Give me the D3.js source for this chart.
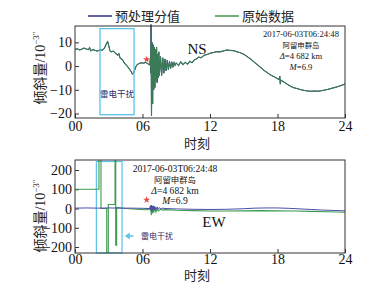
<!DOCTYPE html>
<html><head><meta charset="utf-8">
<script src="https://cdn.jsdelivr.net/npm/d3@7"></script>
<style>body{margin:0;background:#fff}svg{display:block}</style>
</head><body>
<svg id="c" width="365" height="297"></svg>
<script>
// ---------- data ----------
const xTicks = [0, 6, 12, 18, 24];
const xTickLabels = ["00", "06", "12", "18", "24"];
const nsTicks = [10, 0, -10, -20];
const ewTicks = [200, 100, 0, -100, -200];
const seriesNames = ["预处理分值", "原始数据"];

// NS (top) — hours / value
const nsT = [0,0.2,0.4,0.6,0.8,1.0,1.2,1.3,1.4,1.6,1.8,2.0,2.2,2.4,2.6,2.8,2.9,3.0,3.1,3.2,3.4,3.6,3.8,3.9,4.0,4.2,4.4,4.6,4.8,5.0,5.1,5.2,5.3,5.4,5.5,5.7,5.9,6.1,6.3,6.5,6.6,
  6.65,6.7,6.73,6.76,6.8,6.85,6.9,6.95,7.0,7.05,7.1,7.15,7.2,7.25,7.3,7.35,7.4,7.45,7.5,7.6,7.7,7.8,7.9,8.0,8.1,8.2,8.3,8.4,8.5,8.6,8.7,8.8,8.9,
  9.0,9.2,9.4,9.6,9.8,10.0,10.2,10.4,10.6,10.8,11.0,11.2,11.5,11.8,12.0,12.3,12.6,12.9,13.2,13.5,13.8,14.1,14.4,14.7,15.0,15.3,15.6,15.9,16.2,16.5,16.8,17.1,17.4,17.7,18.0,18.15,18.2,18.25,18.3,18.6,18.9,19.2,19.5,19.8,20.1,20.4,20.7,21.0,21.3,21.6,21.9,22.2,22.5,22.8,23.1,23.4,23.7,24.0];
const nsV = [7.0,7.3,6.8,7.1,7.6,7.2,6.9,7.8,6.4,7.0,6.6,6.3,6.9,6.6,7.4,9.5,10.3,8.6,6.5,6.0,6.3,5.4,4.6,5.2,3.4,2.8,1.2,0.2,-1.0,-2.4,-3.4,-2.9,-1.8,-0.4,0.5,1.1,1.4,1.2,1.6,0.9,0.6,
  0.5,3,-3,17.5,-21,10,-16,9,-10,8,-9,7,-6,8,-7,5,-5,6,-4,4,-4,3.5,-3,3,-2,2.5,-1.5,2,-1,1.8,-0.5,1.5,0.3,
  1.3,0.2,1.8,0.6,1.6,0.8,2.0,1.4,2.6,3.0,3.8,3.5,4.6,5.0,5.4,5.7,6.1,6.0,6.4,6.8,6.6,6.5,6.0,5.6,5.0,4.0,3.0,1.8,0.6,-0.6,-1.8,-2.8,-3.8,-4.5,-5.3,-5.6,-4.2,-7.6,-5.9,-6.8,-7.8,-8.6,-9.2,-9.6,-10.0,-10.3,-10.5,-10.6,-10.5,-10.6,-10.4,-10.1,-9.8,-9.4,-9.0,-8.6,-8.1,-7.6];

// EW (bottom) raw — hours / value
const ewRawT = [0,2.13,2.13,2.31,2.31,2.82,2.82,2.96,2.96,3.56,3.56,3.62,3.62,3.70,3.70,4.5,5.5,6.3,
  6.65,6.72,6.78,6.84,6.9,6.96,7.02,7.1,7.2,7.3,7.4,7.6,7.8,8.0,9.0,10.5,12,13.5,15,16.5,18,19.5,21,22.5,24];
const ewRawV = [100,100,260,260,0,0,-260,-260,21,21,260,260,-190,-190,6,0,-4,-6,
  -4,12,-35,15,-25,8,-20,5,-18,0,-12,-4,-8,-6,-9,-11,-13,-13,-12,-11,-12,-13,-15,-17,-19];
// EW (bottom) pre-processed
const ewProcT = [0,1,2,3,4,5,6,6.65,6.7,6.75,6.8,6.85,6.9,6.95,7.0,7.05,7.1,7.2,7.3,7.4,7.5,7.6,7.8,8.0,9,10.5,12,13.5,15,16,17,18,19,20,21,22,23,24];
const ewProcV = [2,3,2,3,2,2,1,0,15,-12,18,-10,12,-8,14,-6,10,-5,8,-3,5,-2,2,0,-2,-4,-5,-4,-1,2,3,3,1,-2,-5,-8,-10,-12];

// ---------- drawing ----------
const svg = d3.select("#c");
const L = 75, R = 345;
const x = d3.scaleLinear().domain([0, 24]).range([L, R]);
const top1 = 26, bot1 = 118, top2 = 160, bot2 = 253;
const y1 = d3.scaleLinear().domain([-21.9, 16.9]).range([bot1, top1]);
const y2 = d3.scaleLinear().domain([-231, 252]).range([bot2, top2]);

const serif = "'Liberation Serif','Times New Roman',serif";
const cjk = "'Noto Sans CJK SC','Noto Sans CJK JP',sans-serif";
const BLUE = "#2c2f80", GREEN = "#3e9a4f", DKGREEN = "#3a7a55", CYAN = "#5cc3ea", RED = "#e5473d";

const defs = svg.append("defs");
defs.append("clipPath").attr("id","cp1").append("rect").attr("x",L).attr("y",top1-8).attr("width",R-L).attr("height",bot1-top1+8);
defs.append("clipPath").attr("id","cp2").append("rect").attr("x",L).attr("y",top2).attr("width",R-L).attr("height",bot2-top2);

function panel(y, top, bot, ticks, pad) {
  const g = svg.append("g");
  const ax = d3.axisBottom(x).tickValues(xTicks).tickFormat((d,i)=>xTickLabels[i]).tickSizeInner(-4).tickSizeOuter(0).tickPadding(pad);
  const gx = g.append("g").attr("transform",`translate(0,${bot})`).call(ax);
  gx.select(".domain").remove();
  gx.selectAll("text").attr("font-family",serif).attr("font-size",14).attr("fill","#111");
  gx.selectAll("line").attr("stroke","#333");
  const ay = d3.axisLeft(y).tickValues(ticks).tickFormat(d=> d<0 ? "\u2212"+Math.abs(d) : d).tickSizeInner(-4).tickSizeOuter(0).tickPadding(3);
  const gy = g.append("g").attr("transform",`translate(${L},0)`).call(ay);
  gy.select(".domain").remove();
  gy.selectAll("text").attr("font-family",serif).attr("font-size",14).attr("fill","#111");
  gy.selectAll("line").attr("stroke","#333");
  return g;
}

// Top panel
panel(y1, top1, bot1, nsTicks, 3);
const lineNS = d3.line().x((d,i)=>x(nsT[i])).y(d=>y1(d));
svg.append("path").attr("d", lineNS(nsV)).attr("fill","none").attr("stroke",BLUE).attr("stroke-width",1).attr("clip-path","url(#cp1)");
svg.append("path").attr("d", lineNS(nsV)).attr("fill","none").attr("stroke",DKGREEN).attr("stroke-width",1.1).attr("clip-path","url(#cp1)");
svg.append("rect").attr("x",L).attr("y",top1).attr("width",R-L).attr("height",bot1-top1).attr("fill","none").attr("stroke","#333").attr("stroke-width",1);
// interference box
svg.append("rect").attr("x",x(2.22)).attr("y",y1(15.8)).attr("width",x(5.25)-x(2.22)).attr("height",y1(-20.5)-y1(15.8))
  .attr("fill","none").attr("stroke",CYAN).attr("stroke-width",1.3);
svg.append("text").attr("x",(x(2.22)+x(5.25))/2).attr("y",97).attr("text-anchor","middle").attr("font-family",cjk).attr("font-size",8.5).attr("fill","#2a2a6a").text("雷电干扰");
svg.append("path").attr("d", d3.symbol(d3.symbolStar, 16)()).attr("transform",`translate(${x(6.37)},${y1(2.8)})`).attr("fill",RED);
svg.append("text").attr("x",197).attr("y",54).attr("text-anchor","middle").attr("font-family",serif).attr("font-size",15).attr("fill","#111").text("NS");

function annot(cx, ys, fs) {
  const g = svg.append("g").attr("font-family",serif).attr("font-size",fs).attr("fill","#111").attr("text-anchor","middle");
  g.append("text").attr("x",cx).attr("y",ys[0]).text("2017-06-03T06:24:48");
  g.append("text").attr("x",cx).attr("y",ys[1]).attr("font-family",cjk).attr("font-size",fs-1.2).text("阿留申群岛");
  const t = g.append("text").attr("x",cx).attr("y",ys[2]);
  t.append("tspan").attr("font-style","italic").text("Δ");
  t.append("tspan").text("=4 682 km");
  const m = g.append("text").attr("x",cx).attr("y",ys[3]);
  m.append("tspan").attr("font-style","italic").text("M");
  m.append("tspan").text("=6.9");
}
annot(301, [37, 47.5, 59, 70], 8.6);

// Bottom panel
panel(y2, top2, bot2, ewTicks, 1);
const lineRaw = d3.line().x((d,i)=>x(ewRawT[i])).y(d=>y2(d));
const lineProc = d3.line().x((d,i)=>x(ewProcT[i])).y(d=>y2(d));
svg.append("rect").attr("x",x(1.9)).attr("y",y2(244)).attr("width",x(4.18)-x(1.9)).attr("height",bot2-y2(244))
  .attr("fill","none").attr("stroke",CYAN).attr("stroke-width",1.2);
svg.append("path").attr("d", lineRaw(ewRawV)).attr("fill","none").attr("stroke",GREEN).attr("stroke-width",1.1).attr("clip-path","url(#cp2)");
svg.append("path").attr("d", lineProc(ewProcV)).attr("fill","none").attr("stroke","#4b4fa8").attr("stroke-width",1).attr("clip-path","url(#cp2)");
svg.append("rect").attr("x",L).attr("y",top2).attr("width",R-L).attr("height",bot2-top2).attr("fill","none").attr("stroke","#333").attr("stroke-width",1);
svg.append("path").attr("d", d3.symbol(d3.symbolStar, 16)()).attr("transform",`translate(${x(6.37)},${y2(45)})`).attr("fill",RED);
svg.append("text").attr("x",214).attr("y",227).attr("text-anchor","middle").attr("font-family",serif).attr("font-size",15).attr("fill","#111").text("EW");
annot(175, [172, 182.5, 194, 203.5], 9.6);
// arrow + label
const ay0 = 236;
svg.append("line").attr("x1",x(4.75)).attr("x2",x(5.2)).attr("y1",ay0).attr("y2",ay0).attr("stroke",CYAN).attr("stroke-width",1.5);
svg.append("path").attr("d",`M${x(4.43)},${ay0} l5,-3.5 l0,7 z`).attr("fill",CYAN);
svg.append("text").attr("x",141).attr("y",ay0+3).attr("font-family",cjk).attr("font-size",8).attr("fill","#2a2a6a").text("雷电干扰");

// axis titles
[[68,143],[216,275]].forEach(([cy,ty])=>{
  const t = svg.append("text").attr("transform",`translate(45,${cy}) rotate(-90)`).attr("text-anchor","middle")
    .attr("font-family",cjk).attr("font-size",14).attr("fill","#222");
  t.append("tspan").text("倾斜量");
  t.append("tspan").attr("font-family",serif).text("/10");
  t.append("tspan").attr("font-family",serif).attr("font-size",9).attr("dy",-6).text("\u22123\u2033");
  svg.append("text").attr("x",197).attr("y",ty+5).attr("text-anchor","middle").attr("font-family",cjk).attr("font-size",13).attr("fill","#222").text("时刻");
});

// legend
const lg = svg.append("g");
const legendItems = [{name: seriesNames[0], color: BLUE, x0: 88}, {name: seriesNames[1], color: GREEN, x0: 215}];
legendItems.forEach(it=>{
  lg.append("line").attr("x1",it.x0).attr("x2",it.x0+24).attr("y1",16).attr("y2",16).attr("stroke",it.color).attr("stroke-width",1.5);
  lg.append("text").attr("x",it.x0+27).attr("y",21).attr("font-family",cjk).attr("font-size",13).attr("fill","#222").text(it.name);
});
</script>
</body></html>
